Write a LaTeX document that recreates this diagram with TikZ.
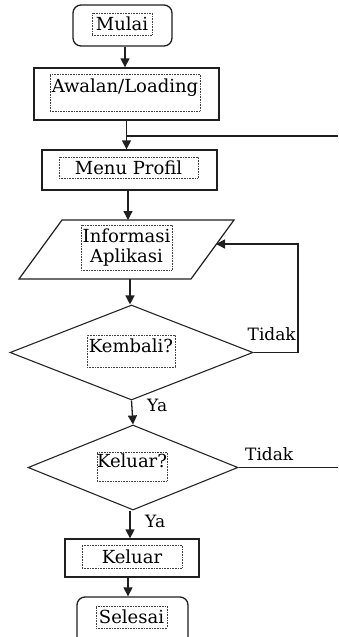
\documentclass[tikz,border=0pt]{standalone}
\usepackage{fontspec}
\setmainfont{DejaVu Serif}
\usetikzlibrary{arrows.meta,shapes.geometric}
\begin{document}
\begin{tikzpicture}[x=1pt,y=-1pt,
  outer/.style={draw=black!88, line width=1.3pt, inner sep=0pt},
  term/.style={outer, rounded corners=8pt},
  dia/.style={draw=black!85, line width=1.1pt, diamond, inner sep=0pt},
  tb/.style={draw=black!75, densely dotted, line width=0.6pt, inner sep=0pt, align=center, font=\fontsize{18}{20}\selectfont},
  lbl/.style={inner sep=0pt, font=\fontsize{17}{19}\selectfont},
  ln/.style={draw=black!88, line width=1.3pt},
  arr/.style={ln, -{Triangle[length=9pt,width=9pt]}}]
\useasboundingbox (0,0) rectangle (338,637);
\clip (0,0) rectangle (338,637);
% outer shapes
\node[term, minimum width=99pt, minimum height=41pt] (mulai) at (122.5,25.5) {};
\node[outer, minimum width=185pt, minimum height=52pt] (awal) at (126.5,94) {};
\node[outer, minimum width=175pt, minimum height=40pt] (menu) at (129.5,170) {};
\draw[ln, line width=1.2pt] (62,220) coordinate (ptl) -- (234,220) coordinate (ptr) -- (191,279) coordinate (pbr) -- (19,279) coordinate (pbl) -- cycle;
\coordinate (infotop) at (128,220);
\coordinate (infobot) at (130,279);
\coordinate (inforight) at (216,244);
\node[dia, minimum width=243pt, minimum height=95pt] (kembali) at (131.5,352.5) {};
\node[dia, minimum width=210pt, minimum height=85pt] (keluarq) at (133,467.5) {};
\node[outer, minimum width=134pt, minimum height=38pt] (keluar) at (132,558) {};
\node[term, minimum width=111pt, minimum height=48pt] (selesai) at (132.5,621) {};
% inner dotted text boxes
\node[tb, minimum width=60pt, minimum height=22pt] (tmulai) at (122,24) {Mulai};
\node[tb, minimum width=150pt, text height=16pt, text depth=17pt, inner ysep=2pt] (tawal) at (125,92.5) {Awalan/Loading};
\node[tb, minimum width=139pt, minimum height=21pt] (tmenu) at (128.5,167.5) {Menu Profil};
\node[tb, minimum width=91pt, minimum height=45pt] (tinfo) at (126.5,247.5) {Informasi\\Aplikasi};
\node[tb, minimum width=88pt, text height=15pt, text depth=13pt, inner ysep=2pt] (tkembali) at (131,351) {Kembali?};
\node[tb, minimum width=70pt, text height=13pt, text depth=12pt, inner ysep=2pt] (tkeluarq) at (132,466.5) {Keluar?};
\node[tb, minimum width=100pt, minimum height=23pt] (tkeluar) at (132,556.5) {Keluar};
\node[tb, minimum width=71pt, minimum height=22pt] (tselesai) at (131.5,617) {Selesai};
% labels
\node[lbl, anchor=base east] (tidak1) at (296,340) {Tidak};
\node[lbl, anchor=base west] (ya1) at (147,411) {Ya};
\node[lbl, anchor=base west] (tidak2) at (245,460) {Tidak};
\node[lbl, anchor=base west] (ya2) at (145,527) {Ya};
% connectors
\draw[arr] ([xshift=2.5pt]mulai.south) -- ([xshift=2.5pt]mulai.south |- awal.north);
\draw[arr] (awal.south) -- (awal.south |- menu.north);
\coordinate (edgetop) at (338,136);
\draw[ln] (edgetop) -- (awal.south |- edgetop);
\draw[arr] ([xshift=-1.5pt]menu.south) -- (infotop);
\draw[arr] (infobot) -- (infobot |- kembali.north);
\coordinate (loopc) at (298,244);
\draw[arr] (kembali.east) -| (loopc) -- (inforight);
\draw[arr] (kembali.south) -- (keluarq.north);
\coordinate (edgebot) at (338,467.5);
\draw[ln] (keluarq.east) -- (edgebot);
\draw[arr] ([xshift=-3pt]keluarq.south) -- ([xshift=-3pt]keluarq.south |- keluar.north);
\draw[arr] ([xshift=-4pt]keluar.south) -- ([xshift=-4pt]keluar.south |- selesai.north);
\end{tikzpicture}
\end{document}
